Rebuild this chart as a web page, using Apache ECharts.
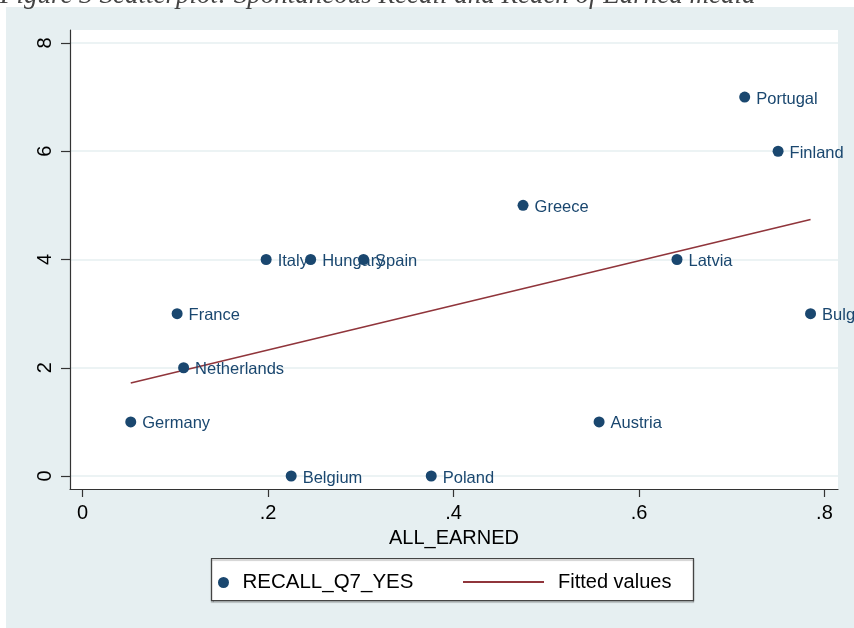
<!DOCTYPE html>
<html>
<head>
<meta charset="utf-8">
<script src="https://cdn.jsdelivr.net/npm/echarts@6/dist/echarts.min.js"></script>
<style>
  html, body { margin: 0; padding: 0; background: #fff; }
  #chart { width: 854px; height: 628px; }
</style>
</head>
<body>
<div id="chart"></div>
<script>
// values
var countries = ['Germany', 'France', 'Netherlands', 'Italy', 'Belgium', 'Hungary', 'Spain',
                 'Poland', 'Greece', 'Austria', 'Latvia', 'Portugal', 'Finland', 'Bulgaria'];
var allEarned = [0.052, 0.102, 0.109, 0.198, 0.225, 0.246, 0.303, 0.376, 0.475, 0.557, 0.641, 0.714, 0.750, 0.785];
var recallQ7  = [1, 3, 2, 4, 0, 4, 4, 0, 5, 1, 4, 7, 6, 3];
// fitted line end points
var fitX = [0.052, 0.785];
var fitY = [1.72, 4.74];
// tick labels
var xTicks = [0, 0.2, 0.4, 0.6, 0.8];
var xTickLabels = ['0', '.2', '.4', '.6', '.8'];
var yTicks = [0, 2, 4, 6, 8];
var yTickLabels = ['0', '2', '4', '6', '8'];

var navy = '#1a476f';
var maroon = '#90353b';
var bg = '#e6eff1';
var font = '"Liberation Sans", Arial, sans-serif';

var chart = echarts.init(document.getElementById('chart'));

var scatterData = countries.map(function (c, i) {
    return { name: c, value: [allEarned[i], recallQ7[i]] };
});
var fitData = fitX.map(function (x, i) { return [x, fitY[i]]; });

var option = {
    backgroundColor: '#fff',
    animation: false,
    graphic: [
        { type: 'rect', z: -10, shape: { x: 6, y: 7, width: 848, height: 621 }, style: { fill: bg } },
        { type: 'text', x: 0, y: -4, z: 10,
          style: { text: 'Figure 3 Scatterplot: Spontaneous Recall and Reach of Earned media',
                   font: 'italic 27px "Liberation Serif", serif', fill: '#444', verticalAlign: 'middle' } },
        { type: 'rect', z: 10, shape: { x: 211.5, y: 558.5, width: 482, height: 42 },
          style: { fill: '#fff', stroke: '#444', lineWidth: 1.2, shadowColor: 'rgba(0,0,0,0.35)', shadowOffsetY: 1.5, shadowBlur: 1 } }
    ],
    grid: {
        left: 70, right: 16, top: 30, bottom: 139,
        show: true, backgroundColor: '#fff', borderWidth: 0
    },
    legend: [{
        data: ['RECALL_Q7_YES'],
        left: 218, top: 572, padding: 0,
        itemWidth: 28, itemHeight: 11,
        textStyle: { fontSize: 20.5, color: '#000', fontFamily: font },
        z: 20
    }, {
        data: [{ name: 'Fitted values', icon: 'rect' }],
        left: 463, top: 572, padding: 0,
        itemWidth: 81, itemHeight: 2,
        textStyle: { fontSize: 20, color: '#000', fontFamily: font, padding: [0, 0, 0, 9] },
        z: 20
    }],
    xAxis: {
        type: 'value',
        min: -0.0135, max: 0.8146,
        name: 'ALL_EARNED', nameLocation: 'middle', nameGap: 39,
        nameTextStyle: { fontSize: 20, color: '#000', fontFamily: font },
        axisLine: { show: true, onZero: false, lineStyle: { color: '#333', width: 1.2 } },
        axisTick: { show: true, length: 8, customValues: xTicks, lineStyle: { color: '#333', width: 1.2 } },
        axisLabel: {
            customValues: xTicks, margin: 14, fontSize: 20, color: '#000', fontFamily: font,
            formatter: function (v) { return xTickLabels[xTicks.indexOf(Math.round(v * 10) / 10)]; }
        },
        splitLine: { show: false }
    },
    yAxis: {
        type: 'value',
        min: -0.24, max: 8.24,
        axisLine: { show: true, onZero: false, lineStyle: { color: '#333', width: 1.2 } },
        axisTick: { show: true, length: 9, customValues: yTicks, lineStyle: { color: '#333', width: 1.2 } },
        axisLabel: {
            customValues: yTicks, rotate: 90, margin: 15, fontSize: 20, color: '#000', fontFamily: font,
            formatter: function (v) { return yTickLabels[yTicks.indexOf(Math.round(v))]; }
        },
        splitLine: { show: true, lineStyle: { color: bg, width: 1.5 } }
    },
    series: [{
        name: 'RECALL_Q7_YES',
        type: 'scatter',
        symbol: 'circle',
        symbolSize: 11,
        itemStyle: { color: navy, opacity: 1 },
        label: {
            show: true, position: 'right', distance: 6, offset: [0, 2],
            formatter: '{b}', color: navy, fontSize: 16.5, fontFamily: font
        },
        data: scatterData,
        z: 3
    }, {
        name: 'Fitted values',
        type: 'line',
        symbol: 'none',
        lineStyle: { color: maroon, width: 1.6 },
        itemStyle: { color: maroon },
        data: fitData,
        z: 2
    }]
};
chart.setOption(option);
</script>
</body>
</html>
